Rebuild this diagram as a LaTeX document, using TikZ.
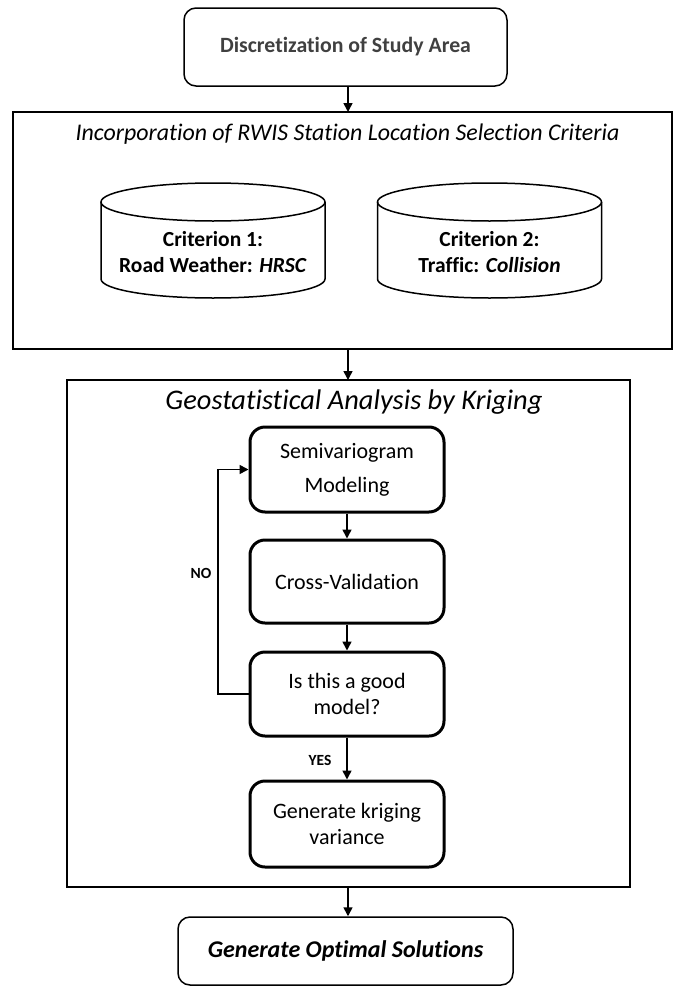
\documentclass[tikz,border=0pt]{standalone}
\usepackage{fontspec}
\setmainfont{Carlito}[Ligatures={NoCommon}]
\usetikzlibrary{arrows.meta}
\definecolor{titlegray}{HTML}{404040}
\newcommand{\fs}[1]{\fontsize{#1}{#1}\selectfont}
\tikzset{
  flowline/.style={line width=1.6pt, -{Triangle[length=9pt,width=9pt]}},
  outerbox/.style={draw, line width=1.5pt, rounded corners=12pt, align=center},
  framebox/.style={draw, line width=1.8pt},
  innerbox/.style={draw, line width=3pt, rounded corners=15pt, align=center,
    minimum width=194pt, inner sep=0pt, font=\fs{22}\linespread{1.15}\selectfont},
  drum/.style={line width=1.5pt},
  drumtext/.style={align=center, font=\bfseries\fs{21.5}\linespread{1.25}\selectfont},
  answer/.style={font=\bfseries\fs{15.5}},
}
\begin{document}
\begin{tikzpicture}[x=1pt, y=-1pt]
\useasboundingbox (0,0) rectangle (673,988);

% top step
\node[outerbox, minimum width=323pt, minimum height=78pt, text=titlegray,
  font=\bfseries\fs{21.8}] (disc) at (345.5,47) {Discretization of Study Area};

% selection criteria frame
\draw[framebox] (13,112) rectangle (672,349);
\coordinate (critTop) at (348,112);
\coordinate (critBot) at (348,349);
\node[font=\itshape\fs{23.9}] (critTitle) at (347.5,134)
  {Incorporation of RWIS Station Location Selection Criteria};

% two criterion drums
\foreach \cx in {213,489.5}{
  \draw[drum, fill=white] (\cx-112,202) -- (\cx-112,279)
    arc[start angle=180, end angle=360, x radius=112, y radius=-19]
    -- (\cx+112,202);
  \draw[drum] (\cx,202) ellipse[x radius=112, y radius=19];
}
\node[drumtext] (crit1) at (213,252) {Criterion 1:\\Road Weather: \textit{HRSC}};
\node[drumtext] (crit2) at (489.5,252) {Criterion 2:\\Traffic: \textit{Collision}};

% kriging frame
\draw[framebox] (67,380) rectangle (630,887);
\coordinate (krigTop) at (348,380);
\coordinate (krigBot) at (348,887);
\node[font=\itshape\fs{28.4}] (krigTitle) at (354,402) {Geostatistical Analysis by Kriging};

\node[innerbox, minimum height=85pt] (semi) at (347,469.5) {Semivariogram\\[9pt]Modeling};
\node[innerbox, minimum height=83pt] (cross) at (347,581.5) {Cross-Validation};
\node[innerbox, minimum height=84pt] (good) at (347,694) {Is this a good\\model?};
\node[innerbox, minimum height=86pt] (kvar) at (347,824) {Generate kriging\\variance};

% final step
\node[outerbox, minimum width=335pt, minimum height=68pt,
  font=\bfseries\itshape\fs{24}] (opt) at (345.5,951) {Generate Optimal Solutions};

% connectors
\draw[flowline] (disc.south -| critTop) -- (critTop);
\draw[flowline] (critBot) -- (krigTop);
\draw[flowline] (semi) -- (cross);
\draw[flowline] (cross) -- (good);
\draw[flowline] (good) -- (kvar);
\draw[flowline] (krigBot) -- (opt.north -| krigBot);
\coordinate (loopX) at (218,0);
\draw[flowline] (good.west) -- (good.west -| loopX) |- (semi.west);

\node[answer] (no) at (201,573) {NO};
\node[answer] (yes) at (320,760) {YES};
\end{tikzpicture}
\end{document}
